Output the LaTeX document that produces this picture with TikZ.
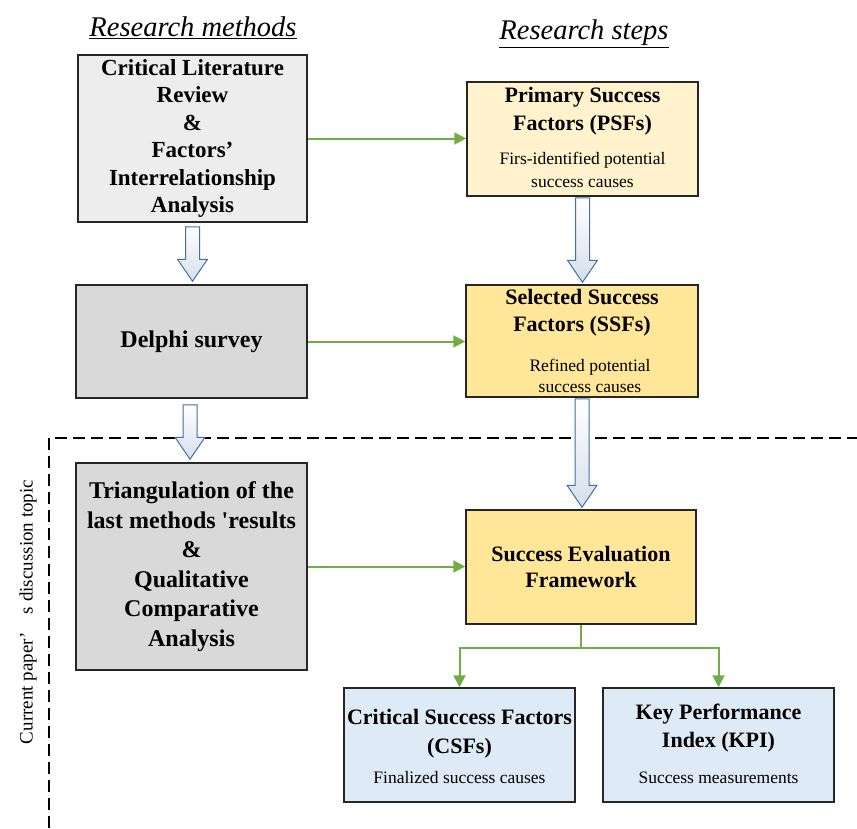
\documentclass[tikz,border=0pt]{standalone}
\usepackage{fontspec}
\setmainfont{Liberation Serif}
\usetikzlibrary{arrows.meta,calc}
\definecolor{boxline}{HTML}{262626}
\definecolor{grayA}{HTML}{EDEDED}
\definecolor{grayB}{HTML}{D9D9D9}
\definecolor{yelA}{HTML}{FFF2CC}
\definecolor{yelB}{HTML}{FFE699}
\definecolor{blueA}{HTML}{DEEBF7}
\definecolor{arrowgreen}{HTML}{70AD47}
\definecolor{arrowblue}{HTML}{41719C}
\definecolor{shadeblue}{HTML}{D6DFEE}
\newcommand{\blockarrow}[2]{%
  \path[blockarr] let \p1=#1, \p2=#2 in
    (\x1-7pt,\y1) -- (\x1+7pt,\y1) -- (\x1+7pt,\y2+22pt) -- (\x1+15pt,\y2+22pt)
    -- (\x1,\y2) -- (\x1-15pt,\y2+22pt) -- (\x1-7pt,\y2+22pt) -- cycle;}
\begin{document}
\begin{tikzpicture}[x=1pt,y=-1pt,
  box/.style 2 args={draw=boxline,line width=1.5pt,align=center,inner sep=0pt,
    minimum width=#1pt,minimum height=#2pt},
  greenarr/.style={draw=arrowgreen,line width=2pt,-{Triangle[length=12pt,width=12pt]}},
  blockarr/.style={draw=arrowblue,line width=1pt,top color=white,bottom color=shadeblue},
  dashline/.style={draw=black,line width=1.3pt,dash pattern=on 12pt off 6pt},
  title/.style={font=\fontsize{28.5}{32}\selectfont\itshape},
  bigbf/.style={font=\fontsize{24}{29.5}\selectfont\bfseries},
  midbf/.style={font=\fontsize{22}{26.5}\selectfont\bfseries},
  hd/.style={align=center,inner sep=0pt,font=\fontsize{22}{#1}\selectfont\bfseries},
  sm/.style={align=center,inner sep=0pt,font=\fontsize{17.5}{#1}\selectfont},
]
\useasboundingbox (0,0) rectangle (857,828);

% titles
\node[title] (t1) at (193,28) {\underline{Research methods}};
\node[title] (t2) at (584,34) {\underline{Research steps}};

% left column
\node[box={229}{167},fill=grayA,font=\fontsize{23}{27.5}\selectfont\bfseries] (A) at (192.5,138.5)
  {Critical Literature\\Review\\\&\\Factors’\\Interrelationship\\Analysis};
\node[box={231}{113},fill=grayB,bigbf] (D) at (191.5,341.5) {Delphi survey};
\node[box={231}{207},fill=grayB,bigbf] (T) at (191.5,566.5)
  {Triangulation of the\\last methods \textquotesingle results\\\&\\Qualitative\\Comparative\\Analysis};

% right column
\node[box={231}{114},fill=yelA] (P) at (582.5,139) {};
\node[hd=28] (Pt) at (582.5,111) {Primary Success\\Factors (PSFs)};
\node[sm=23] (Ps) at (582.5,170) {Firs-identified potential\\success causes};

\node[box={232}{112},fill=yelB] (S) at (582,341) {};
\node[hd=27] (St) at (582,313) {Selected Success\\Factors (SSFs)};
\node[sm=21.5] (Ss) at (590,376) {Refined potential\\success causes};

\node[box={230}{114},fill=yelB,midbf] (E) at (581,567) {Success Evaluation\\Framework};

% bottom row
\node[box={231}{114},fill=blueA] (C) at (459.5,745) {};
\node[hd=29] (Ct) at (459.5,734) {Critical Success Factors\\(CSFs)};
\node[sm=21] (Cs) at (459.5,778) {Finalized success causes};

\node[box={231}{114},fill=blueA] (K) at (718.5,745) {};
\node[hd=28] (Kt) at (718.5,728.5) {Key Performance\\Index (KPI)};
\node[sm=21] (Ks) at (718.5,778) {Success measurements};

% dashed frame
\coordinate (dl) at (49,828);
\coordinate (dc) at (49,438);
\coordinate (dr) at (857,438);
\draw[dashline] (dl) -- (dc) -- (dr);

\node[rotate=90,font=\fontsize{19}{22}\selectfont] (lab) at (28,612)
  {Current paper’\hspace{18pt}s discussion topic};

% block arrows
\blockarrow{([yshift=-4pt]A.south)}{([yshift=3pt]D.north)}
\blockarrow{([xshift=-1.5pt,yshift=-6pt]D.south)}{([xshift=-1.5pt,yshift=3pt]T.north)}
\blockarrow{([yshift=-1pt]P.south)}{([yshift=2pt]S.north)}
\blockarrow{([yshift=-1pt]S.south)}{([yshift=2pt]E.north)}

% green arrows
\draw[greenarr] (A.east) -- (A.east -| P.west);
\draw[greenarr] (D.east) -- (D.east -| S.west);
\draw[greenarr] (T.east) -- (T.east -| E.west);
\draw[greenarr] (E.south) -- ++(0,23) -| (C.north);
\draw[greenarr] (E.south) -- ++(0,23) -| (K.north);
\end{tikzpicture}
\end{document}
